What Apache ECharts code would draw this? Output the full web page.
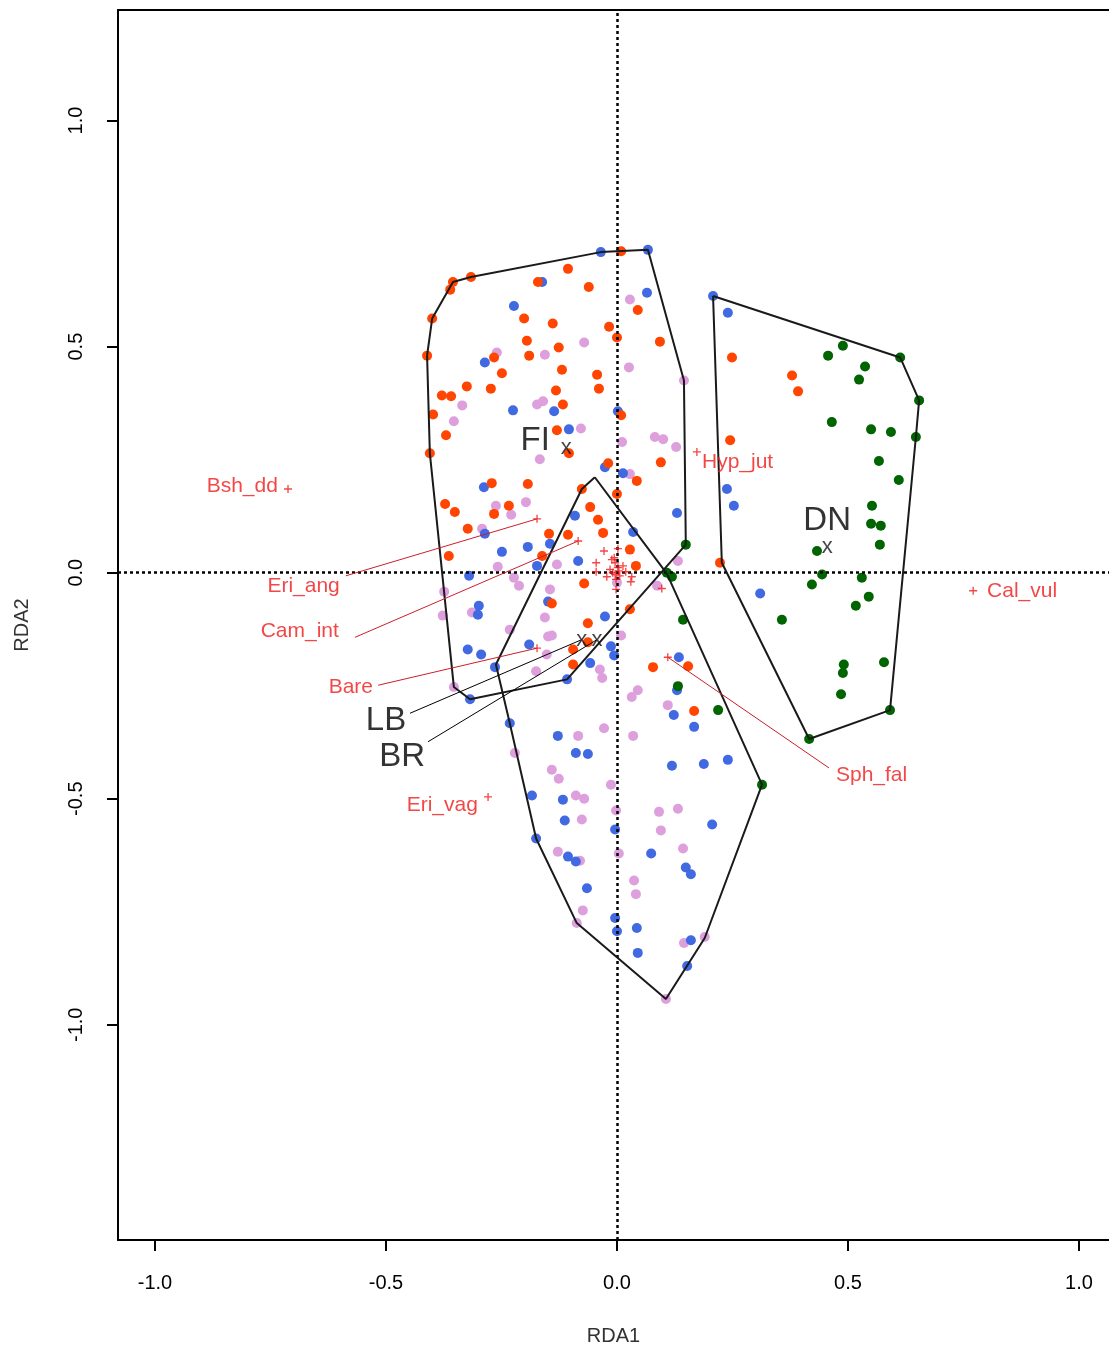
<!DOCTYPE html>
<html>
<head>
<meta charset="utf-8">
<script src="https://cdn.jsdelivr.net/npm/echarts@6/dist/echarts.min.js"></script>
<style>html,body{margin:0;padding:0;background:#fff}#chart{width:1109px;height:1351px}</style>
</head>
<body>
<div id="chart"></div>
<script>
// ---- site scores (RDA1, RDA2), by colour group ----
const sitesOrange = [
[-0.106,0.672],[-0.171,0.643],[-0.061,0.632],[-0.316,0.654],[-0.355,0.643],[-0.361,0.626],[-0.400,0.562],[-0.411,0.480],
[-0.201,0.562],[-0.139,0.551],[-0.195,0.513],[-0.126,0.498],[-0.190,0.480],[-0.266,0.476],[-0.119,0.449],[-0.249,0.441],
[-0.325,0.412],[-0.273,0.407],[-0.379,0.392],[-0.359,0.390],[-0.132,0.403],[-0.117,0.372],[-0.398,0.350],[-0.043,0.438],
[-0.039,0.407],[-0.130,0.315],[-0.370,0.304],[0.009,0.711],[0.045,0.581],[-0.017,0.544],[0.000,0.520],[0.093,0.511],
[0.249,0.476],[0.009,0.348],[0.379,0.436],[0.392,0.401],[0.245,0.293],[0.095,0.244],[-0.019,0.242],[0.043,0.203],
[0.000,0.174],[-0.041,0.117],[-0.030,0.088],[0.028,0.051],[0.041,0.015],[-0.058,0.145],[0.223,0.022],[0.028,-0.081],
[-0.405,0.264],[-0.104,0.264],[-0.271,0.198],[-0.193,0.196],[-0.372,0.152],[-0.351,0.134],[-0.234,0.148],[-0.266,0.130],
[-0.323,0.097],[-0.076,0.185],[-0.147,0.086],[-0.106,0.084],[-0.364,0.037],[-0.162,0.037],[-0.071,-0.024],[-0.141,-0.068],
[-0.063,-0.112],[-0.095,-0.170],[-0.063,-0.154],[-0.095,-0.203],[0.078,-0.209],[0.154,-0.207],[0.167,-0.306]
];
const sitesBlue = [
[-0.162,0.643],[-0.223,0.590],[-0.286,0.465],[-0.225,0.359],[-0.136,0.357],[-0.104,0.317],[-0.035,0.709],[0.067,0.714],
[0.065,0.619],[0.208,0.612],[0.240,0.575],[0.002,0.357],[-0.026,0.233],[0.013,0.220],[0.238,0.185],[0.253,0.148],
[0.130,0.132],[0.035,0.090],[-0.026,-0.097],[0.310,-0.046],[-0.288,0.189],[-0.286,0.086],[-0.249,0.046],[-0.193,0.057],
[-0.145,0.064],[-0.091,0.126],[-0.173,0.015],[-0.084,0.026],[-0.320,-0.007],[-0.149,-0.064],[-0.299,-0.073],[-0.301,-0.093],
[-0.323,-0.170],[-0.294,-0.181],[-0.190,-0.159],[-0.264,-0.209],[-0.318,-0.280],[-0.108,-0.236],[-0.058,-0.200],[-0.232,-0.333],
[-0.128,-0.361],[-0.089,-0.399],[-0.063,-0.401],[-0.184,-0.493],[-0.117,-0.502],[-0.013,-0.163],[-0.006,-0.183],[0.134,-0.187],
[0.130,-0.260],[0.123,-0.315],[0.167,-0.341],[0.119,-0.427],[0.188,-0.423],[0.240,-0.414],[-0.113,-0.548],[-0.004,-0.568],
[-0.175,-0.588],[-0.106,-0.628],[-0.089,-0.639],[-0.065,-0.698],[-0.004,-0.764],[0.000,-0.793],[0.043,-0.786],[0.045,-0.841],
[0.206,-0.557],[0.074,-0.621],[0.149,-0.652],[0.160,-0.667],[0.160,-0.813],[0.152,-0.870]
];
const sitesPlum = [
[-0.260,0.487],[-0.156,0.482],[-0.071,0.509],[-0.335,0.370],[-0.173,0.372],[-0.160,0.379],[-0.353,0.335],[-0.078,0.319],
[0.028,0.604],[0.026,0.454],[0.145,0.425],[0.011,0.289],[0.082,0.300],[0.100,0.295],[0.128,0.278],[0.028,0.218],
[0.132,0.026],[0.087,-0.029],[0.000,-0.022],[-0.167,0.251],[-0.262,0.148],[-0.197,0.156],[-0.229,0.128],[-0.292,0.097],
[-0.258,0.013],[-0.223,-0.011],[-0.212,-0.029],[-0.130,0.018],[-0.145,-0.037],[-0.374,-0.042],[-0.314,-0.088],[-0.377,-0.095],
[-0.156,-0.099],[-0.232,-0.126],[-0.149,-0.141],[-0.141,-0.139],[-0.152,-0.181],[-0.175,-0.218],[-0.353,-0.253],[-0.221,-0.399],
[-0.084,-0.361],[-0.141,-0.436],[-0.126,-0.456],[-0.089,-0.493],[-0.071,-0.500],[0.009,-0.139],[-0.037,-0.214],[-0.032,-0.233],
[0.045,-0.260],[0.032,-0.275],[0.110,-0.293],[-0.028,-0.344],[0.035,-0.361],[-0.013,-0.469],[-0.002,-0.526],[0.091,-0.529],
[0.132,-0.522],[-0.076,-0.546],[-0.128,-0.617],[-0.080,-0.637],[0.004,-0.621],[0.037,-0.681],[0.041,-0.711],[-0.074,-0.747],
[-0.087,-0.775],[0.095,-0.570],[0.143,-0.610],[0.145,-0.819],[0.190,-0.806],[0.106,-0.943]
];
const sitesGreen = [
[0.489,0.502],[0.457,0.480],[0.537,0.456],[0.613,0.476],[0.524,0.427],[0.654,0.381],[0.465,0.333],[0.550,0.317],
[0.593,0.311],[0.647,0.300],[0.567,0.247],[0.610,0.205],[0.552,0.148],[0.550,0.108],[0.571,0.104],[0.569,0.062],
[0.433,0.048],[0.444,-0.004],[0.422,-0.026],[0.530,-0.011],[0.545,-0.053],[0.517,-0.073],[0.357,-0.104],[0.491,-0.203],
[0.489,-0.222],[0.578,-0.198],[0.485,-0.269],[0.591,-0.304],[0.416,-0.368],[0.149,0.062],[0.108,0.000],[0.119,-0.009],
[0.143,-0.104],[0.132,-0.251],[0.219,-0.304],[0.314,-0.469]
];

// ---- convex hulls (vertices) ----
const hullFI = [[-0.411,0.480],[-0.400,0.562],[-0.355,0.643],[-0.316,0.654],[-0.035,0.709],[0.067,0.714],[0.145,0.425],
[0.149,0.062],[-0.108,-0.236],[-0.318,-0.280],[-0.353,-0.253],[-0.405,0.264]];
const hullDN = [[0.208,0.612],[0.613,0.476],[0.654,0.381],[0.647,0.300],[0.591,-0.304],[0.416,-0.368],[0.227,0.022]];
const hullLBBR = [[-0.048,0.211],[0.108,-0.002],[0.314,-0.469],[0.190,-0.808],[0.106,-0.943],[-0.087,-0.775],
[-0.175,-0.588],[-0.232,-0.333],[-0.262,-0.203],[-0.076,0.185]];

// ---- species scores ----
const speciesNames = ['Bsh_dd','Hyp_jut','Cal_vul','Eri_vag','Eri_ang','Cam_int','Bare','Sph_fal'];
const speciesScores = [[-0.712,0.185],[0.173,0.267],[0.771,-0.040],[-0.279,-0.496],[-0.173,0.119],[-0.084,0.070],[-0.173,-0.167],[0.110,-0.187]];
const speciesLabelAt = [[-0.734,0.192],[0.184,0.244],[0.801,-0.042],[-0.301,-0.515],[-0.600,-0.031],[-0.602,-0.130],[-0.528,-0.253],[0.474,-0.449]];
const speciesLeaderFrom = [null,null,null,null,[-0.587,-0.007],[-0.567,-0.143],[-0.517,-0.249],[0.459,-0.432]];
// unlabelled species near the origin
const speciesMinor = [[-0.028,0.048],[0.002,0.053],[-0.045,0.022],[-0.045,0.002],[-0.011,0.029],[0.032,-0.009],[0.030,-0.020],
[-0.002,-0.037],[0.097,-0.035],[-0.022,-0.009],[-0.004,0.022],[0.002,0.011],[-0.009,0.000],[0.006,-0.007],[-0.002,-0.015],
[-0.015,0.007],[0.013,0.015],[0.019,0.002],[-0.006,0.033],[0.004,0.004],[-0.004,-0.004]];

// ---- group centroids ----
const groupNames = ['FI','DN','LB','BR'];
const groupCentroids = [[-0.110,0.275],[0.455,0.057],[-0.076,-0.148],[-0.043,-0.148]];
const groupLabelAt = [[-0.177,0.291],[0.455,0.115],[-0.500,-0.328],[-0.465,-0.407]];
const groupLeaderFrom = [null,null,[-0.448,-0.311],[-0.409,-0.374]];

const ticks = [-1.0,-0.5,0.0,0.5,1.0];
const xRange = [-1.08, 1.065];
const yRange = [-1.476, 1.2445];

const FONT = "'Liberation Sans', Arial, Helvetica, sans-serif";
const RED = '#f01818';
const PLUS = 'path://M-1,-6H1V-1H6V1H1V6H-1V1H-6V-1H-1Z';

function closed(h){ return h.concat([h[0]]); }
function hullSeries(h){
  return {type:'line', data: closed(h), symbol:'none', silent:true, z:5,
    lineStyle:{color:'#1a1a1a', width:2}, animation:false};
}
function siteSeries(d, color, z){
  return {type:'scatter', data:d, symbol:'circle', symbolSize:10, z:z,
    itemStyle:{color:color, opacity:1}, animation:false};
}

const speciesLeaders = [];
speciesLeaderFrom.forEach((f,i)=>{ if(f) speciesLeaders.push({coords:[f, speciesScores[i]]}); });
const groupLeaders = [];
groupLeaderFrom.forEach((f,i)=>{ if(f) groupLeaders.push({coords:[f, groupCentroids[i]]}); });

const speciesLabelData = speciesNames.map((n,i)=>({
  name:n, value:speciesLabelAt[i],
  label:{align: speciesLabelAt[i][0] < speciesScores[i][0] ? 'right' : 'left'}
}));

const frameLine = {show:true, onZero:false, lineStyle:{color:'#000', width:2}};
const chart = echarts.init(document.getElementById('chart'), null, {renderer:'canvas'});
chart.setOption({
  animation:false,
  backgroundColor:'#fff',
  grid:{left:118, top:10, width:991, height:1236, show:false},
  xAxis:[{type:'value', min:xRange[0], max:xRange[1], position:'bottom',
    name:'RDA1', nameLocation:'middle', nameGap:86,
    nameTextStyle:{fontFamily:FONT, fontSize:20, color:'#333'},
    axisLine:frameLine, splitLine:{show:false},
    axisTick:{show:true, length:11, customValues:ticks, lineStyle:{color:'#000', width:2}},
    axisLabel:{customValues:ticks, margin:33, fontFamily:FONT, fontSize:20, color:'#000',
      formatter:v=>v.toFixed(1)}},
   {type:'value', min:xRange[0], max:xRange[1], position:'top',
    axisLine:frameLine, splitLine:{show:false}, axisTick:{show:false}, axisLabel:{show:false}}],
  yAxis:{type:'value', min:yRange[0], max:yRange[1], position:'left',
    name:'RDA2', nameLocation:'middle', nameGap:86,
    nameTextStyle:{fontFamily:FONT, fontSize:20, color:'#333'},
    axisLine:frameLine, splitLine:{show:false},
    axisTick:{show:true, length:11, customValues:ticks, lineStyle:{color:'#000', width:2}},
    axisLabel:{customValues:ticks, margin:32, rotate:90, fontFamily:FONT, fontSize:20, color:'#000',
      formatter:v=>v.toFixed(1)}},
  series:[
    {type:'line', data:[], silent:true, z:1,
      markLine:{silent:true, symbol:'none', label:{show:false}, animation:false,
        lineStyle:{color:'#000', type:[3,3], width:2.5},
        data:[{xAxis:0},{yAxis:0}]}},
    siteSeries(sitesPlum,'#dda0dd',2),
    siteSeries(sitesBlue,'#4169e1',3),
    siteSeries(sitesOrange,'#ff4500',4),
    siteSeries(sitesGreen,'#006400',4),
    hullSeries(hullFI), hullSeries(hullDN), hullSeries(hullLBBR),
    {type:'lines', coordinateSystem:'cartesian2d', data:speciesLeaders, z:6, silent:true,
      lineStyle:{color:'#cc1f2a', width:1, opacity:1}, animation:false},
    {type:'lines', coordinateSystem:'cartesian2d', data:groupLeaders, z:6, silent:true,
      lineStyle:{color:'#000', width:1, opacity:1}, animation:false},
    {type:'scatter', data:speciesScores.concat(speciesMinor), symbol:PLUS, symbolSize:8, z:7,
      itemStyle:{color:RED}, animation:false},
    {type:'scatter', data:speciesLabelData, symbolSize:1, z:8, itemStyle:{color:'transparent'},
      label:{show:true, position:'inside', verticalAlign:'middle', formatter:p=>p.name,
        fontFamily:FONT, fontSize:21, color:RED}, animation:false},
    {type:'scatter', data:groupCentroids, symbolSize:1, z:8, itemStyle:{color:'transparent'},
      label:{show:true, position:'inside', formatter:'x', fontFamily:FONT, fontSize:22, color:'#111'}, animation:false},
    {type:'scatter', data:groupNames.map((n,i)=>({name:n, value:groupLabelAt[i]})), symbolSize:1, z:8,
      itemStyle:{color:'transparent'},
      label:{show:true, position:'inside', formatter:p=>p.name, fontFamily:FONT, fontSize:33, color:'#000'}, animation:false}
  ]
});
</script>
</body>
</html>
